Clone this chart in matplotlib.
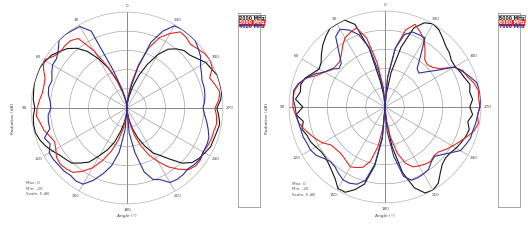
import numpy as np
import matplotlib
matplotlib.use("Agg")
import matplotlib.pyplot as plt

# ---------------- data (dB vs angle in degrees, 0..360 step 5) ----------------
angles_deg = list(range(0, 361, 5))
label_angles = list(range(0, 360, 30))
angle_labels = ["0", "30", "60", "90", "120", "150", "180", "210", "240", "270", "300", "330"]

left_names = ["2000 MHz", "3000 MHz", "4000 MHz"]
right_names = ["5000 MHz", "6000 MHz", "7000 MHz"]

g2000 = [-25.0,-24.2,-22.9,-20.8,-17.2,-13.5,-10.2,-7.0,-4.7,-3.1,-2.1,-1.0,-0.5,0.0,0.0,0.0,-0.3,-0.5,-1.0,-0.5,-0.3,-0.3,-0.8,-1.6,-2.6,-3.6,-4.2,-4.7,-6.3,-7.8,-10.7,-13.0,-15.6,-18.8,-21.4,-23.7,-25.0,
         -24.0,-21.9,-19.3,-16.7,-14.1,-11.5,-9.9,-7.6,-4.7,-2.9,-2.1,-1.6,-1.0,-1.0,-0.8,-0.5,-1.0,-1.6,-0.5,0.0,0.0,0.0,-0.8,-1.3,-2.6,-3.6,-3.9,-4.9,-6.3,-8.9,-12.5,-15.9,-19.3,-21.9,-23.7,-25.0]
g3000 = [-25.0,-24.2,-22.9,-20.8,-17.7,-13.3,-7.8,-2.9,-2.1,-2.1,-2.3,-1.6,0.0,-1.0,-2.3,-2.6,-2.6,-2.1,-1.6,-1.3,-2.1,-2.6,-3.6,-4.2,-3.6,-2.6,-2.3,-2.6,-3.1,-4.9,-7.0,-9.9,-13.0,-16.4,-19.8,-22.9,-25.0,
         -23.4,-21.1,-17.7,-14.6,-11.5,-8.9,-6.3,-4.2,-2.3,-1.6,-1.6,-2.1,-1.8,-1.6,-1.6,-1.3,-1.6,-2.1,-1.0,-0.5,-1.3,-2.1,-0.5,0.0,-0.3,-1.0,-1.6,-1.0,-0.8,-2.6,-4.7,-8.3,-13.3,-18.5,-22.4,-25.0]
g4000 = [-25.0,-24.0,-22.4,-19.8,-14.6,-2.9,-0.5,-0.3,0.0,0.0,-1.6,-2.6,-2.6,-3.4,-4.2,-3.9,-4.2,-4.9,-5.2,-4.4,-4.2,-4.2,-2.1,-2.9,-1.6,-1.6,-1.8,-1.8,-2.1,-1.8,-2.1,-4.2,-6.8,-9.4,-13.3,-19.3,-25.0,
         -18.5,-13.3,-7.8,-5.2,-4.4,-2.6,-2.3,-2.3,-2.6,-2.1,-1.8,-2.1,-2.1,-2.3,-3.1,-3.9,-4.7,-5.2,-4.7,-4.4,-4.2,-4.2,-3.6,-2.9,-1.6,-0.8,0.0,0.0,0.0,-0.3,-2.9,-6.8,-14.1,-19.8,-22.9,-25.0]

g5000 = [-25.0,-22.4,-18.5,-9.4,-2.1,0.0,0.0,0.0,-1.0,-2.1,-3.4,-4.7,-5.2,-4.2,-2.9,-2.3,-2.6,-1.6,-3.6,-1.8,-3.4,-2.6,-3.4,-3.6,-4.2,-4.7,-4.7,-4.2,-3.4,-2.3,-0.5,-0.5,-2.1,-4.2,-9.4,-16.7,-25.0,
         -21.9,-14.6,-7.3,-2.6,-0.3,0.0,-0.8,-2.6,-3.9,-4.4,-4.2,-3.6,-3.1,-2.6,-2.3,-3.1,-2.1,-2.9,-2.1,-2.6,-2.1,-2.9,-3.4,-3.9,-3.9,-3.1,-2.6,-1.6,-0.5,0.0,-0.8,-3.1,-8.9,-15.9,-21.9,-25.0]
g6000 = [-25.0,-19.8,-13.3,-6.3,-3.1,-3.6,-4.2,-5.7,-7.3,-8.3,-8.3,-8.1,-6.8,-5.5,-3.1,-1.8,-1.0,-1.0,-1.0,-1.6,-2.1,-3.1,-4.2,-5.2,-6.3,-7.8,-8.1,-8.3,-8.1,-7.6,-7.0,-7.6,-8.3,-10.4,-14.6,-19.8,-25.0,
         -21.9,-17.2,-12.5,-9.4,-7.8,-7.3,-6.8,-6.5,-7.0,-6.8,-5.7,-4.7,-3.6,-2.3,-1.0,-0.3,-0.8,-0.3,-0.5,-0.3,-1.0,-2.1,-2.6,-4.2,-7.6,-8.9,-9.4,-8.9,-6.8,-4.7,-3.4,-2.1,-4.2,-9.4,-17.2,-25.0]
g7000 = [-25.0,-21.1,-15.9,-8.9,-4.9,-2.9,-1.6,-2.6,-6.3,-8.9,-9.4,-7.8,-6.8,-4.7,-3.1,-1.6,-0.8,-1.0,-1.6,-1.8,-2.1,-2.3,-2.3,-2.6,-2.6,-3.1,-4.2,-4.9,-4.7,-3.9,-3.1,-3.1,-3.6,-5.2,-9.9,-17.2,-25.0,
         -18.5,-12.0,-6.3,-4.7,-4.7,-4.9,-5.2,-6.3,-6.8,-5.7,-4.2,-2.3,-1.8,-1.3,-1.3,-1.0,-0.8,-0.3,0.0,0.0,-0.3,-1.6,-2.9,-4.2,-8.3,-10.7,-12.5,-12.0,-8.9,-4.2,-4.2,-4.2,-5.5,-9.4,-17.2,-25.0]

colors = ["#151515", "#e3261e", "#2b2f9c"]
r_min, r_max = -25, 0
r_ticks = [-20, -15, -10, -5, 0]
label_r = 1.6

fig = plt.figure(figsize=(5.28, 2.4), dpi=100)
W, H = 528.0, 240.0


def polar_panel(cx, cy, rad, series, names, ylab_x, info_xy, box_x):
    ax = fig.add_axes([(cx - rad) / W, (H - cy - rad) / H, 2 * rad / W, 2 * rad / H],
                      projection="polar")
    ax.set_theta_zero_location("N")
    ax.set_theta_direction(1)
    ax.set_rlim(r_min, r_max)
    ax.set_rticks(r_ticks)
    ax.set_yticklabels([])
    ax.set_thetagrids(label_angles, [""] * len(label_angles))
    ax.grid(True, color="#9a9a9a", lw=0.45)
    ax.spines["polar"].set_color("#c8c8c8")
    ax.spines["polar"].set_linewidth(0.5)
    ax.spines["polar"].set_linestyle((0, (1, 1)))
    for a, t in zip(label_angles, angle_labels):
        ax.text(np.deg2rad(a), label_r, t, fontsize=3.0, color="#444444",
                ha="center", va="center", clip_on=False)
    # darker main axes (0-180, 90-270)
    for a in (0, 90, 180, 270):
        ax.plot([np.deg2rad(a)] * 2, [r_min, r_max], color="#555555", lw=0.6, zorder=1)
    th = np.deg2rad(angles_deg)
    for vals, c in zip(series, colors):
        ax.plot(th, vals, color=c, lw=0.8, zorder=3)
    ax.set_facecolor("white")

    # labels
    fig.text(ylab_x / W, 1 - 118 / H, "Radiation (dB)", rotation=90, fontsize=3.2,
             color="#444444", ha="center", va="center")
    fig.text(cx / W, 1 - 216 / H, "Angle (\u00b0)", fontsize=3.2, color="#444444",
             ha="center", va="center")
    ix, iy = info_xy
    for k, t in enumerate(["Max: 0", "Min: -25", "Scale: 5 dB"]):
        fig.text(ix / W, 1 - (iy + 5.5 * k) / H, t, fontsize=3.0, color="#555555",
                 ha="left", va="center")

    # legend box
    bax = fig.add_axes([box_x / W, 1 - 207 / H, 22 / W, 194 / H])
    bax.set_xticks([])
    bax.set_yticks([])
    bax.set_xlim(0, 1)
    bax.set_ylim(0, 1)
    for s in bax.spines.values():
        s.set_color("#9a9a9a")
        s.set_linewidth(0.6)
    y0 = 0.985
    for k, (n, c) in enumerate(zip(names, colors)):
        yy = y0 - k * 0.022
        if k == 1:
            bax.text(0.06, yy, n, fontsize=3.3, color="white", weight="bold",
                     ha="left", va="top",
                     bbox=dict(boxstyle="square,pad=0.1", fc=c, ec=c, lw=0.3))
        elif k == 0:
            bax.text(0.06, yy, n, fontsize=3.3, color=c, weight="bold",
                     ha="left", va="top",
                     bbox=dict(boxstyle="square,pad=0.1", fc="white", ec="#222222", lw=0.4))
        else:
            bax.text(0.06, yy, n, fontsize=3.3, color=c, weight="bold",
                     ha="left", va="top")
    return ax


polar_panel(127, 108, 96, [g2000, g3000, g4000], left_names, 13, (26, 183), 238)
polar_panel(385, 107, 96, [g5000, g6000, g7000], right_names, 267, (292, 184), 498)

fig.savefig("out.png", dpi=100, facecolor="white")
